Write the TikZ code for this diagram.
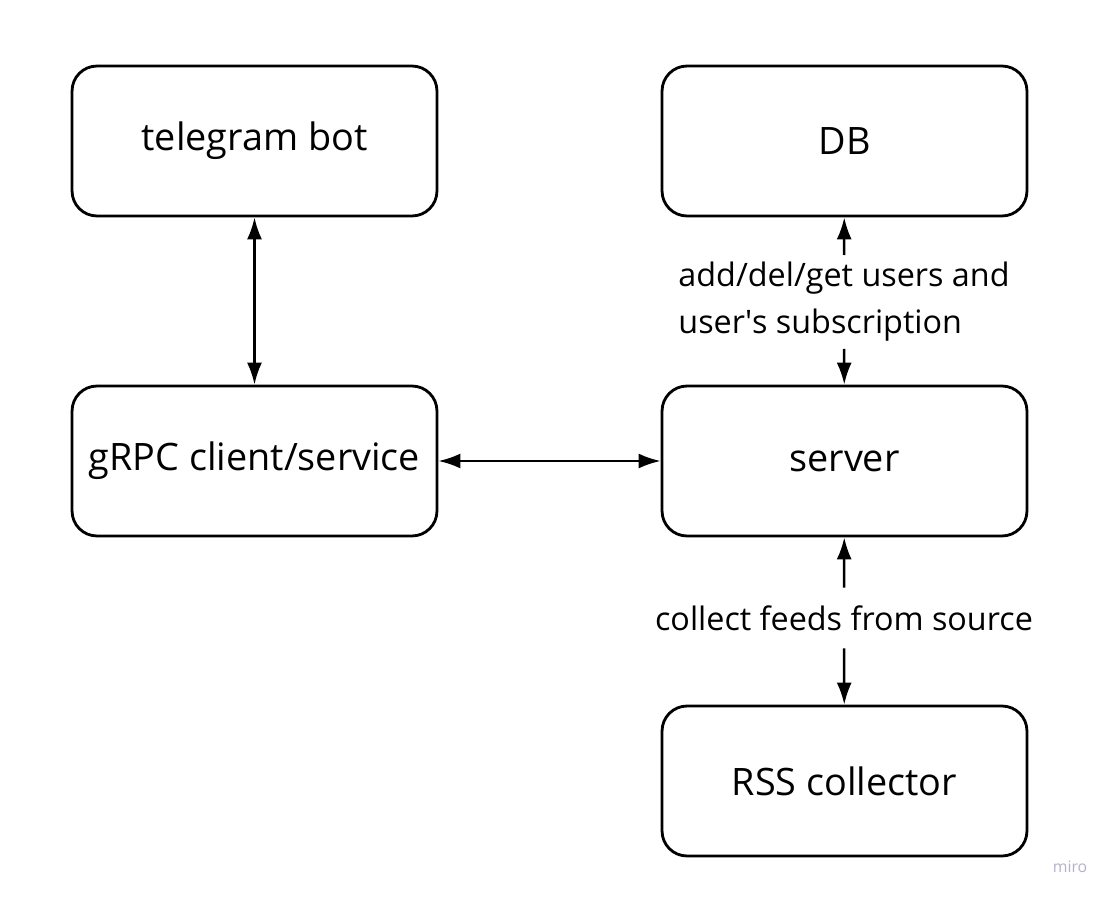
\documentclass[tikz,border=0pt]{standalone}
\usepackage{fontspec}
\setmainfont{Open Sans}
\usetikzlibrary{arrows.meta,positioning}

\begin{document}
\begin{tikzpicture}[
    x=0.02cm, y=-0.02cm,
    box/.style={draw, line width=1.6pt, rounded corners=0.5cm, minimum width=7.3cm, minimum height=3cm, align=center, font=\fontsize{21.5}{26}\selectfont},
    lbl/.style={align=left, inner xsep=0pt, inner ysep=4pt, font=\fontsize{18.4}{26.7}\selectfont},
    arr/.style={{Latex[length=0.44cm, width=0.3cm]}-{Latex[length=0.44cm, width=0.3cm]}, line width=1.4pt},
    half/.style={-{Latex[length=0.44cm, width=0.3cm]}, line width=1.4pt}
]
\useasboundingbox (0,0) rectangle (1112,898);
\node[box] (bot) at (254.5,141) {telegram bot};
\node[box] (db) at (844.5,141) {DB};
\node[box] (grpc) at (254.5,461) {gRPC client/service};
\node[box] (server) at (844.5,461) {server};
\node[box] (rss) at (844.5,781) {RSS collector};
\node[lbl] (dbtext) at (844,302) {add/del/get users and\\user\textquotesingle s subscription};
\node[lbl, inner ysep=10pt] (rsstext) at (844,618) {collect feeds from source};
\draw[arr] (bot) -- (grpc);
\draw[arr] (grpc) -- (server);
\draw[half] (dbtext) -- (db);
\draw[half] (dbtext) -- (server);
\draw[half] (rsstext) -- (server);
\draw[half] (rsstext) -- (rss);
\node[text=blue!20!gray!50, font=\fontsize{9}{11}\selectfont] (miro) at (1070,867) {miro};
\end{tikzpicture}
\end{document}
